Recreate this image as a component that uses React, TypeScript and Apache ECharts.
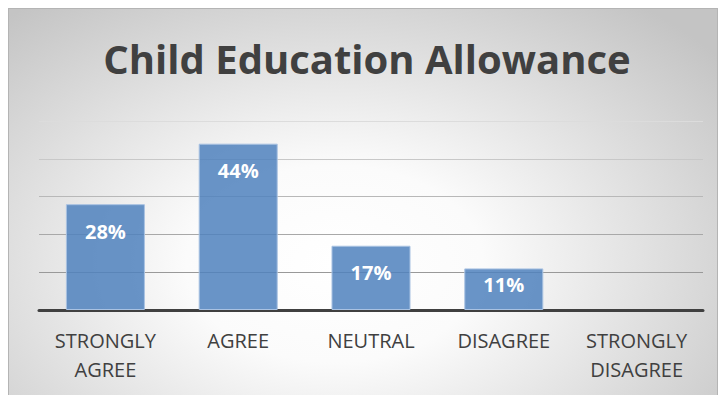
import React, { useEffect, useRef } from "react";
import * as echarts from "echarts";

const categories = ["STRONGLY\nAGREE", "AGREE", "NEUTRAL", "DISAGREE", "STRONGLY\nDISAGREE"];
const values = [28, 44, 17, 11, 0];
const titleText = "Child Education Allowance";
const yMin = 0;
const yMax = 50;
const yInterval = 10;

export default function App() {
  const ref = useRef<HTMLDivElement>(null);
  useEffect(() => {
    if (!ref.current) return;
    const chart = echarts.init(ref.current, undefined, { renderer: "svg" });
    chart.setOption({
      animation: false,
      backgroundColor: "transparent",
      title: {
        text: titleText,
        left: 353,
        textAlign: "center",
        top: 24,
        textStyle: {
          fontFamily: "Open Sans",
          fontWeight: "bold",
          fontSize: 40,
          color: "#404040",
        },
      },
      grid: { left: 30, right: 16, top: 112, bottom: 86, containLabel: false },
      xAxis: {
        type: "category",
        data: categories,
        axisLine: { show: true, lineStyle: { color: "#404040", width: 3 } },
        axisTick: { show: false },
        axisLabel: {
          interval: 0,
          margin: 16,
          fontFamily: "Open Sans",
          fontSize: 20,
          lineHeight: 29,
          color: "#404040",
        },
      },
      yAxis: {
        type: "value",
        min: yMin,
        max: yMax,
        interval: yInterval,
        axisLabel: { show: false },
        axisLine: { show: false },
        axisTick: { show: false },
        splitLine: {
          show: true,
          lineStyle: {
            color: ["#8c8c8c", "#999999", "#a8a8a8", "#b8b8b8", "#c8c8c8", "#dcdcdc"],
            width: 1,
          },
        },
      },
      series: [
        {
          type: "bar",
          barCategoryGap: "40.5%",
          data: values.map((v) => ({
            value: v,
            itemStyle: { borderWidth: v > 0 ? 1 : 0 },
            label: { distance: v < 15 ? 6 : 17 },
          })),
          itemStyle: {
            color: "rgba(79,129,189,0.85)",
            borderColor: "#a9c2e2",
            borderWidth: 1,
          },
          label: {
            show: true,
            position: "insideTop",
            formatter: (p: any) => (p.value > 0 ? p.value + "%" : ""),
            fontFamily: "Open Sans",
            fontWeight: "bold",
            fontSize: 20,
            color: "#ffffff",
          },
        },
      ],
    });
    return () => chart.dispose();
  }, []);
  return (
    <div style={{ position: "fixed", left: 0, top: 0, width: 720, height: 395, background: "#ffffff", overflow: "hidden" }}>
      <div
        style={{
          position: "absolute",
          left: 8,
          top: 8,
          width: 710,
          height: 387,
          boxSizing: "border-box",
          borderTop: "1px solid #b4b4b4",
          borderLeft: "1px solid #b4b4b4",
          borderRight: "1px solid #b4b4b4",
          background:
            "radial-gradient(ellipse 70% 85% at 46% 66%, #ffffff 0%, #fbfbfb 30%, #c4c4c4 100%)",
        }}
      >
        <div ref={ref} style={{ position: "absolute", left: 0, top: 0, width: 710, height: 387 }} />
      </div>
    </div>
  );
}
